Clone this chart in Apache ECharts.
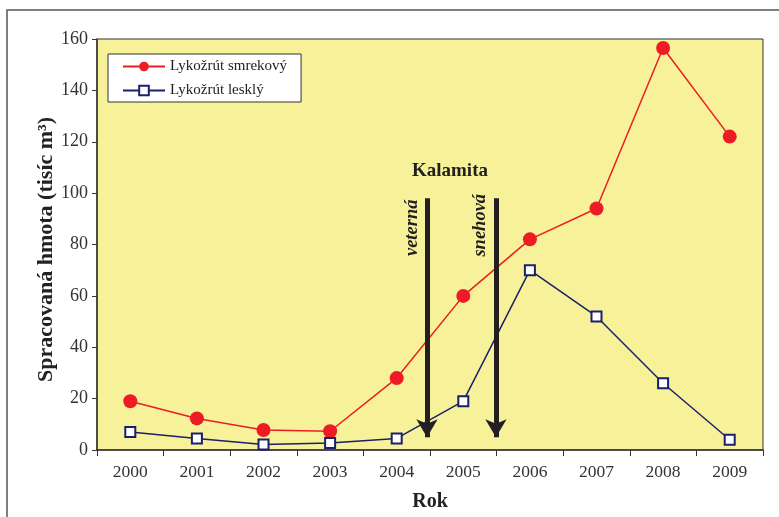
<!DOCTYPE html>
<html>
<head>
<meta charset="utf-8">
<script src="https://cdn.jsdelivr.net/npm/echarts@6/dist/echarts.min.js"></script>
<style>html,body{margin:0;padding:0;background:#fff}#c{width:779px;height:517px}</style>
</head>
<body>
<div id="c"></div>
<script>
const years = ['2000','2001','2002','2003','2004','2005','2006','2007','2008','2009'];
const smrekovy = [19, 12.3, 7.8, 7.3, 28, 60, 82, 94, 156.5, 122];
const lesklý = [7, 4.5, 2.1, 2.7, 4.5, 19, 70, 52, 26, 4];
const seriesNames = ['Lykožrút smrekový', 'Lykožrút lesklý'];
const arrowX = [4.455, 5.49];
const arrowTop = 98, arrowBottom = 5;

const FONT = '"Liberation Serif", "DejaVu Serif", serif';
const chart = echarts.init(document.getElementById('c'));
chart.setOption({
  animation: false,
  backgroundColor: '#fff',
  graphic: [{
    type: 'rect', shape: {x: 7, y: 10, width: 900, height: 700},
    style: {fill: 'none', stroke: '#555', lineWidth: 1.5}, z: -1
  }],
  grid: {left: 97, right: 16, top: 39, bottom: 67, show: true,
    backgroundColor: '#F7F199', borderColor: '#333', borderWidth: 1},
  legend: {
    data: seriesNames, orient: 'vertical', left: 108, top: 54,
    backgroundColor: '#fff', borderColor: '#333', borderWidth: 1,
    padding: [5, 14, 4, 14], itemGap: 9, itemWidth: 42, itemHeight: 12,
    textStyle: {fontFamily: FONT, fontSize: 15, color: '#222'}
  },
  xAxis: [{
    type: 'category', data: years, boundaryGap: true,
    name: 'Rok', nameLocation: 'middle', nameGap: 42,
    nameTextStyle: {fontFamily: FONT, fontSize: 20, fontWeight: 'bold', color: '#222'},
    axisLine: {lineStyle: {color: '#333', width: 1.5}},
    axisTick: {show: true, length: 6, lineStyle: {color: '#333'}},
    axisLabel: {fontFamily: FONT, fontSize: 17.5, color: '#333', margin: 13}
  }, {
    type: 'value', min: -0.5, max: 9.5, show: false
  }],
  yAxis: {
    type: 'value', min: 0, max: 160, interval: 20,
    name: 'Spracovaná hmota (tisíc m³)', nameLocation: 'middle', nameGap: 40,
    nameMoveOverlap: false,
    nameTextStyle: {fontFamily: FONT, fontSize: 22, fontWeight: 'bold', color: '#222',
      padding: [0, 10, 0, 0]},
    axisLine: {show: true, onZero: false, lineStyle: {color: '#333', width: 1.5}},
    axisTick: {show: true, length: 5, lineStyle: {color: '#333'}},
    axisLabel: {fontFamily: FONT, fontSize: 18, color: '#333', margin: 9},
    splitLine: {show: false}
  },
  series: [{
    name: seriesNames[0], type: 'line', data: smrekovy,
    symbol: 'circle', symbolSize: 14,
    lineStyle: {color: '#ED1C24', width: 1.5},
    itemStyle: {color: '#ED1C24', borderWidth: 0}, z: 3
  }, {
    name: seriesNames[1], type: 'line', data: lesklý,
    symbol: 'rect', symbolSize: 10,
    lineStyle: {color: '#1B2168', width: 1.5},
    itemStyle: {color: '#fff', borderColor: '#1B2168', borderWidth: 2}, z: 3
  }, {
    name: 'arrows', type: 'scatter', xAxisIndex: 1, data: [], z: 5,
    markLine: {
      silent: true, symbol: ['none', 'arrow'], symbolSize: [16, 18],
      lineStyle: {color: '#231F20', width: 5, type: 'solid', opacity: 1},
      label: {show: false},
      data: arrowX.map(x => [{coord: [x, arrowTop]}, {coord: [x, arrowBottom]}])
    }
  }, {
    name: 'labels', type: 'scatter', xAxisIndex: 1, symbolSize: 0, z: 6,
    itemStyle: {opacity: 1},
    data: [
      {value: [4.23, 86.5], label: {formatter: 'veterná', rotate: 90, fontStyle: 'italic'}},
      {value: [5.25, 87.5], label: {formatter: 'snehová', rotate: 90, fontStyle: 'italic'}},
      {value: [4.8, 108.5], label: {formatter: 'Kalamita', fontSize: 19}}
    ],
    label: {show: true, position: 'inside', fontFamily: FONT, fontWeight: 'bold',
      fontSize: 18.5, color: '#231F20', opacity: 1}
  }]
});
</script>
</body>
</html>
